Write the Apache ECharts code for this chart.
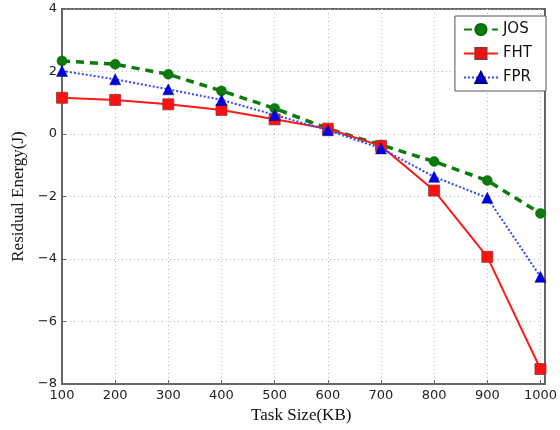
<!DOCTYPE html>
<html>
<head>
<meta charset="utf-8">
<script src="https://cdn.jsdelivr.net/npm/echarts@6/dist/echarts.min.js"></script>
<style>html,body{margin:0;padding:0;background:#fff;}#c{width:560px;height:430px;}</style>
</head>
<body>
<div id="c"></div>
<script>
const taskSizes = [100, 200, 300, 400, 500, 600, 700, 800, 900, 1000];
const josValues = [2.34, 2.23, 1.91, 1.38, 0.82, 0.17, -0.35, -0.88, -1.49, -2.54];
const fhtValues = [1.16, 1.09, 0.95, 0.77, 0.47, 0.17, -0.38, -1.81, -3.93, -7.52];
const fprValues = [2.02, 1.75, 1.43, 1.09, 0.61, 0.12, -0.46, -1.37, -2.04, -4.57];
const xTicks = [100, 200, 300, 400, 500, 600, 700, 800, 900, 1000];
const yTicks = [-8, -6, -4, -2, 0, 2, 4];

const pair = (vals) => taskSizes.map((x, i) => [x, vals[i]]);
const chart = echarts.init(document.getElementById('c'), null, {renderer: 'canvas'});
const tickFont = {fontFamily: 'DejaVu Sans', fontSize: 13, color: '#222'};
chart.setOption({
  animation: false,
  backgroundColor: '#fff',
  grid: {left: 62, right: 15, top: 9, bottom: 46, containLabel: false},
  legend: {
    right: 14, top: 16, orient: 'vertical',
    backgroundColor: '#fff', borderColor: '#555', borderWidth: 1, borderRadius: 0,
    padding: [6, 14, 6, 8], itemGap: 9, itemWidth: 34, itemHeight: 14,
    textStyle: {fontFamily: 'DejaVu Sans', fontSize: 15, color: '#111'},
    data: ['JOS', 'FHT', 'FPR']
  },
  xAxis: {
    type: 'value', min: 100, max: 1000, interval: 100,
    name: 'Task Size(KB)', nameLocation: 'middle', nameGap: 22,
    nameTextStyle: {fontFamily: 'Liberation Serif', fontSize: 17, color: '#111'},
    axisLine: {show: true, onZero: false, lineStyle: {color: '#666', width: 2}},
    axisTick: {show: true, inside: true, length: 4, lineStyle: {color: '#666'}},
    axisLabel: Object.assign({margin: 5, formatter: v => xTicks.includes(v) ? String(v) : ''}, tickFont),
    splitLine: {show: true, lineStyle: {color: '#bbb', type: [1, 3], width: 1}}
  },
  yAxis: {
    type: 'value', min: -8, max: 4, interval: 2,
    name: 'Residual Energy(J)', nameLocation: 'middle', nameGap: 34,
    nameTextStyle: {fontFamily: 'Liberation Serif', fontSize: 17, color: '#111'},
    axisLine: {show: true, onZero: false, lineStyle: {color: '#666', width: 2}},
    axisTick: {show: true, inside: true, length: 4, lineStyle: {color: '#666'}},
    axisLabel: Object.assign({margin: 5, formatter: v => yTicks.includes(v) ? String(v).replace('-', '\u2212') : ''}, tickFont),
    splitLine: {show: true, lineStyle: {color: '#bbb', type: [1, 3], width: 1}}
  },
  graphic: [{
    type: 'rect', shape: {x: 62, y: 9, width: 483, height: 375},
    style: {fill: 'none', stroke: '#666', lineWidth: 2}, z: 0, silent: true
  }],
  series: [
    {
      name: 'JOS', type: 'line', data: pair(josValues),
      symbol: 'circle', symbolSize: 10,
      lineStyle: {color: '#0a7a0a', width: 3.5, type: [8, 6]},
      itemStyle: {color: '#0a7a0a', borderColor: '#0a6a0a', borderWidth: 0.5}, z: 3
    },
    {
      name: 'FHT', type: 'line', data: pair(fhtValues),
      symbol: 'rect', symbolSize: 11,
      lineStyle: {color: '#ff1a1a', width: 2},
      itemStyle: {color: '#ff1010', borderColor: '#993333', borderWidth: 0.8}, z: 4
    },
    {
      name: 'FPR', type: 'line', data: pair(fprValues),
      symbol: 'triangle', symbolSize: 11,
      lineStyle: {color: '#3344ff', width: 2, type: [2, 2]},
      itemStyle: {color: '#0000e0', borderColor: '#000080', borderWidth: 0.5}, z: 5
    }
  ]
});
</script>
</body>
</html>
